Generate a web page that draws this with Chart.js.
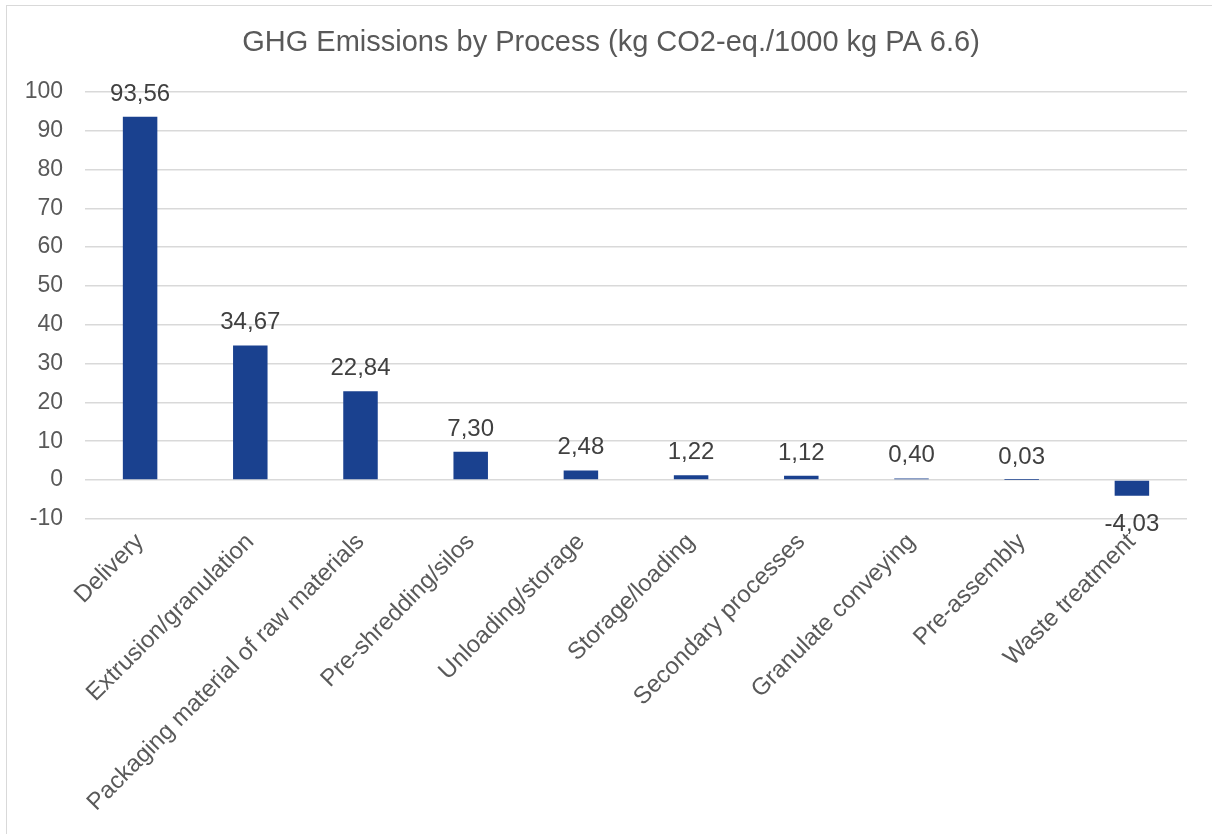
<!DOCTYPE html>
<html>
<head>
<meta charset="utf-8">
<script src="https://cdn.jsdelivr.net/npm/chart.js@4.4.1/dist/chart.umd.min.js"></script>
<style>
  html, body { margin: 0; padding: 0; background: #ffffff; overflow: hidden; }
  #wrap { position: absolute; left: 0; top: 0; width: 1212px; height: 834px; }
  #frame { position: absolute; left: 6px; top: 5px; width: 1300px; height: 900px; border: 1.5px solid #d9d9d9; pointer-events: none; }
</style>
</head>
<body>
<div id="wrap"><canvas id="c" width="1212" height="834"></canvas></div>
<div id="frame"></div>
<script>
const categories = [
  "Delivery",
  "Extrusion/granulation",
  "Packaging material of raw materials",
  "Pre-shredding/silos",
  "Unloading/storage",
  "Storage/loading",
  "Secondary processes",
  "Granulate conveying",
  "Pre-assembly",
  "Waste treatment"
];
const emissions = [93.56, 34.67, 22.84, 7.30, 2.48, 1.22, 1.12, 0.40, 0.03, -4.03];
const yMin = -10;
const yMax = 100;
const yStep = 10;
const chartTitle = "GHG Emissions by Process (kg CO2-eq./1000 kg PA 6.6)";

const FONT = "'Liberation Sans', Arial, sans-serif";
const fmt = v => v.toFixed(2).replace('.', ',');

const valueLabels = {
  id: 'valueLabels',
  afterDatasetsDraw(chart) {
    const ctx = chart.ctx;
    const meta = chart.getDatasetMeta(0);
    ctx.save();
    ctx.font = "24px " + FONT;
    ctx.fillStyle = "#404040";
    ctx.textAlign = "center";
    ctx.textBaseline = "alphabetic";
    meta.data.forEach((bar, i) => {
      const v = chart.data.datasets[0].data[i];
      const txt = fmt(v);
      if (v >= 0) {
        ctx.fillText(txt, bar.x, bar.y - 16);
      } else {
        ctx.fillText(txt, bar.x, bar.y + 35);
      }
    });
    ctx.restore();
  }
};

// Centre the title on the outer chart frame (as in the reference) rather than on the padded area
const titleShift = {
  id: 'titleShift',
  afterLayout(chart) {
    if (chart.titleBlock) {
      chart.titleBlock.left += 11;
    }
  }
};

new Chart(document.getElementById('c'), {
  type: 'bar',
  data: {
    labels: categories,
    datasets: [{
      data: emissions,
      backgroundColor: '#1a418f',
      borderColor: '#1a418f',
      borderWidth: 0,
      barPercentage: 0.313,
      categoryPercentage: 1.0
    }]
  },
  options: {
    responsive: false,
    animation: false,
    devicePixelRatio: 1,
    layout: { padding: { left: 24, right: 25, top: 22, bottom: 8 } },
    plugins: {
      legend: { display: false },
      tooltip: { enabled: false },
      title: {
        display: true,
        text: chartTitle,
        color: '#595959',
        font: { family: FONT, size: 29, weight: 'normal' },
        padding: { top: 4, bottom: 31 }
      }
    },
    scales: {
      x: {
        grid: { display: false, drawTicks: false },
        border: { display: false },
        ticks: {
          color: '#595959',
          font: { family: FONT, size: 24 },
          minRotation: 45,
          maxRotation: 45,
          padding: 9,
          autoSkip: false
        }
      },
      y: {
        min: yMin,
        max: yMax,
        grid: { color: '#d9d9d9', lineWidth: 1.5, drawTicks: false },
        border: { display: false },
        afterFit(scale) { scale.width = 61; },
        ticks: {
          stepSize: yStep,
          color: '#595959',
          font: { family: FONT, size: 23 },
          padding: 22
        }
      }
    }
  },
  plugins: [valueLabels, titleShift]
});
</script>
</body>
</html>
